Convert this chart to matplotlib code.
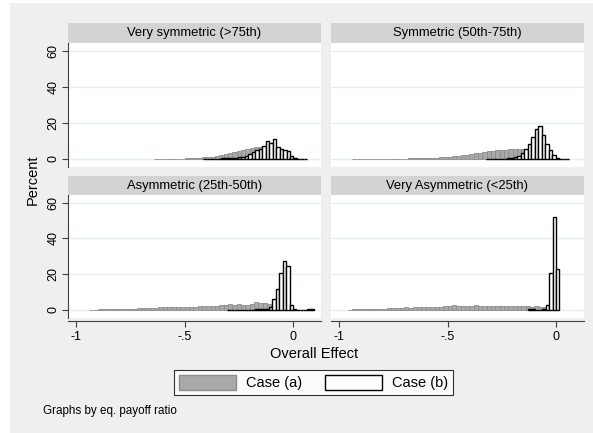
import numpy as np
import matplotlib.pyplot as plt
from matplotlib.patches import Rectangle, Patch

plt.rcParams['font.family'] = ['Liberation Sans', 'DejaVu Sans']

# panel titles
titles = ['Very symmetric (>75th)', 'Symmetric (50th-75th)',
          'Asymmetric (25th-50th)', 'Very Asymmetric (<25th)']

# bin widths
wa = 0.02    # case (a)
wb = 0.016   # case (b)

# case (a): first bin center + percent per bin
a_start = [-0.63, -0.93, -0.93, -0.95]
a_vals = [
    [0.1, 0.05, 0.1, 0.1, 0.15, 0.2, 0.2, 0.3, 0.4, 0.5, 0.6, 0.8, 1.0, 1.3,
     1.6, 2.0, 2.5, 3.0, 3.6, 4.3, 5.0, 5.6, 6.2, 6.6, 6.8, 6.9, 6.6, 6.2,
     5.2, 4.0, 2.6, 1.2, 0.3],
    [0.2, 0, 0, 0, 0, 0, 0.1, 0.1, 0.1, 0.1, 0.15, 0.2, 0.2, 0.3, 0.3, 0.4,
     0.4, 0.5, 0.6, 0.7, 0.8, 1.0, 1.1, 1.4, 1.7, 2.0, 2.3, 2.7, 3.1, 3.4,
     3.9, 4.3, 4.6, 4.8, 5.0, 5.1, 5.3, 5.3, 5.4, 5.2, 5.0, 4.6, 4.0, 3.2,
     2.2, 1.2, 0.5, 0.1],
    [0.2, 0.2, 0.3, 0.3, 0.3, 0.4, 0.4, 0.5, 0.6, 0.7, 0.8, 0.9, 1.0, 1.2,
     1.1, 1.3, 1.4, 1.5, 1.4, 1.6, 1.7, 1.7, 1.8, 1.9, 1.9, 2.0, 2.0, 2.1,
     2.1, 2.2, 2.8, 3.0, 3.1, 2.9, 3.1, 2.8, 3.0, 3.4, 4.2, 4.0, 3.6, 3.4,
     3.0, 2.2, 1.2, 0.5, 0.1],
    [0.2, 0.3, 0.3, 0.4, 0.4, 0.5, 0.6, 0.7, 0.8, 0.9, 1.2, 1.0, 1.3, 1.4,
     1.3, 1.5, 1.6, 1.7, 1.6, 1.8, 1.9, 1.8, 2.0, 2.2, 2.7, 2.1, 2.2, 2.1,
     2.4, 2.7, 2.3, 2.2, 2.3, 2.0, 2.1, 2.2, 2.0, 2.1, 2.0, 2.1, 2.0, 2.1,
     1.9, 2.0, 1.8, 1.9, 1.7],
]

# case (b)
b_start = [-0.406, -0.314, -0.296, -0.12]
b_vals = [
    [0.1, 0.1, 0.1, 0.2, 0.2, 0.3, 0.3, 0.4, 0.5, 0.6, 0.8, 1.2, 1.7, 2.6,
     3.8, 5.0, 5.6, 7.4, 9.9, 8.8, 10.8, 6.7, 5.7, 4.8, 4.4, 1.5, 0.3, 0.2,
     0.1, 0.1],
    [0.05, 0.05, 0.1, 0.1, 0.15, 0.2, 0.3, 0.5, 0.8, 1.7, 3.2, 5.6, 8.4,
     12.1, 16.8, 18.2, 13.1, 8.4, 4.8, 2.4, 0.5, 0.2, 0.1, 0.1],
    [0.2, 0.2, 0, 0, 0.1, 0.2, 0.1, 0.2, 0.3, 0.4, 0.5, 0.8, 1.8, 6.2, 11.7,
     20.9, 27.4, 24.6, 2.6, 0.5, 0.2, 0.1, 0.2, 0.3, 0.3],
    [0.3, 0.4, 0.0, 0.1, 0.4, 2.8, 20.9, 51.7, 23.1],
]

W, H = 593, 433
fig = plt.figure(figsize=(W / 100, H / 100), dpi=100)
fig.patch.set_facecolor('white')
fig.patches.append(Rectangle((10 / W, 0), 1, 1 - 3 / H, transform=fig.transFigure,
                             facecolor='#efefef', edgecolor='none', zorder=-10))

# panel boxes in pixels: left, top, right, bottom, header top
boxes = [(68, 43, 321, 167, 23), (331, 43, 584, 167, 23),
         (68, 195, 321, 318, 176), (331, 195, 584, 318, 176)]

for i, (l, t, r, b, ht) in enumerate(boxes):
    ax = fig.add_axes([l / W, 1 - b / H, (r - l) / W, (b - t) / H])
    ax.set_facecolor('white')
    xa = a_start[i] + wa * np.arange(len(a_vals[i]))
    xb = b_start[i] + wb * np.arange(len(b_vals[i]))
    ax.bar(xa, a_vals[i], width=wa, color='#a9a9a9', edgecolor='#8c8c8c', linewidth=0.6)
    ax.bar(xb, b_vals[i], width=wb, color='white', edgecolor='black', linewidth=1.0)
    ax.set_xlim(-1.037, 0.129)
    ax.set_ylim(-4.5, 64.2)
    ax.set_yticks([0, 20, 40, 60])
    ax.grid(axis='y', color='#e4eef0', linewidth=0.9)
    ax.set_axisbelow(True)
    for s in ['top', 'right']:
        ax.spines[s].set_visible(False)
    if i % 2 == 0:
        ax.spines['left'].set_color('#404040')
        ax.tick_params(axis='y', length=4, color='#404040', labelsize=9, pad=2)
        for lab in ax.get_yticklabels():
            lab.set_rotation(90)
            lab.set_va('center')
    else:
        ax.spines['left'].set_visible(False)
        ax.tick_params(axis='y', left=False, labelleft=False)
    if i >= 2:
        ax.spines['bottom'].set_color('#404040')
        ax.spines['bottom'].set_position(('outward', 2))
        ax.set_xticks([-1, -0.5, 0])
        ax.set_xticklabels(['-1', '-.5', '0'])
        ax.tick_params(axis='x', length=4, color='#404040', labelsize=9, pad=3)
    else:
        ax.spines['bottom'].set_visible(False)
        ax.tick_params(axis='x', bottom=False, labelbottom=False)
    # header strip
    fig.patches.append(Rectangle((l / W, 1 - t / H), (r - l) / W, (t - ht) / H,
                                 transform=fig.transFigure, facecolor='#d3d3d3',
                                 edgecolor='none'))
    fig.text((l + r) / 2 / W, 1 - (t + ht) / 2 / H, titles[i], ha='center',
             va='center', fontsize=9.4)

fig.text(33 / W, 1 - 180 / H, 'Percent', rotation=90, ha='center', va='center', fontsize=10.5)
fig.text(314 / W, 1 - 354 / H, 'Overall Effect', ha='center', va='center', fontsize=10.5)

handles = [Patch(facecolor='#a9a9a9', edgecolor='#8c8c8c', label='Case (a)'),
           Patch(facecolor='white', edgecolor='black', label='Case (b)')]
leg = fig.legend(handles=handles, loc='center', ncol=2,
                 bbox_to_anchor=(313.5 / W, 1 - 382.5 / H), fontsize=10.5,
                 handlelength=3.9, handleheight=1.2, handletextpad=0.7,
                 frameon=True, fancybox=False, edgecolor='black',
                 borderpad=0.35, columnspacing=1.6)
leg.get_frame().set_linewidth(0.8)

fig.text(43 / W, 1 - 411 / H, 'Graphs by eq. payoff ratio', ha='left', va='center', fontsize=8.4)

plt.savefig('out.png', dpi=100)
